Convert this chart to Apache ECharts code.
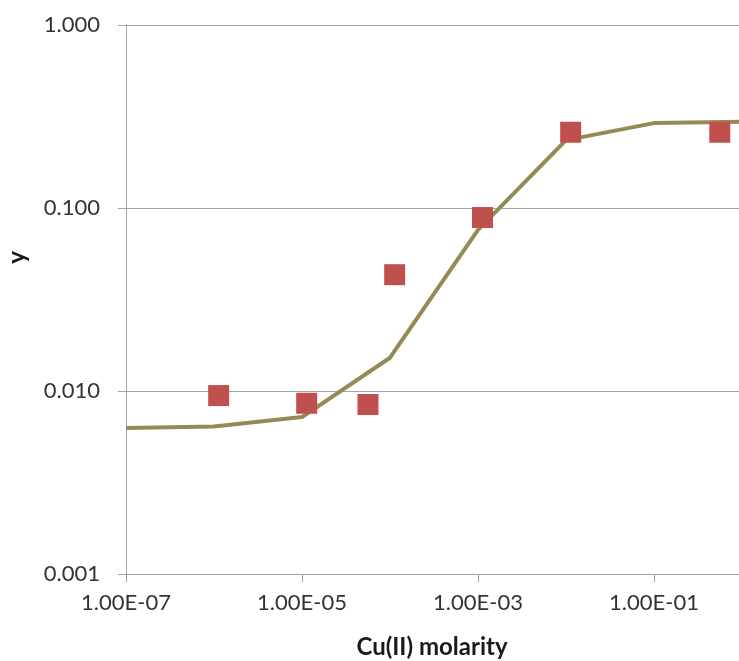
<!DOCTYPE html>
<html>
<head>
<meta charset="utf-8">
<script src="https://cdn.jsdelivr.net/npm/echarts@6/dist/echarts.min.js"></script>
<style>
html,body{margin:0;padding:0;background:#fff;overflow:hidden;}
#chart{width:745px;height:661px;}
</style>
</head>
<body>
<div id="chart"></div>
<script>
// Fitted curve (olive line)
const lineX = [1e-7, 1e-6, 1e-5, 1e-4, 1e-3, 1e-2, 1e-1, 1];
const lineY = [0.00628, 0.0064, 0.0072, 0.0152, 0.076, 0.235, 0.291, 0.296];
// Measured points (red squares)
const pointX = [1.13e-6, 1.13e-5, 5.62e-5, 1.13e-4, 1.125e-3, 1.13e-2, 0.559];
const pointY = [0.00944, 0.00857, 0.00844, 0.0432, 0.0887, 0.2594, 0.2594];
// Tick labels
const xTickValues = [1e-7, 1e-5, 1e-3, 1e-1];
const xTickLabels = ['1.00E-07', '1.00E-05', '1.00E-03', '1.00E-01'];
const yTickLabels = ['0.001', '0.010', '0.100', '1.000'];

const chart = echarts.init(document.getElementById('chart'), null, {renderer: 'canvas'});
const font = 'Lato';
const gridColor = '#a5a5a5';

function xLabel(v) {
  let best = 0, bd = Infinity;
  xTickValues.forEach((t, i) => {
    const d = Math.abs(Math.log10(v) - Math.log10(t));
    if (d < bd) { bd = d; best = i; }
  });
  return bd < 0.01 ? xTickLabels[best] : '';
}
function yLabel(v) {
  const e = Math.round(Math.log10(v)) + 3;
  return yTickLabels[e] !== undefined ? yTickLabels[e] : '';
}

chart.setOption({
  animation: false,
  backgroundColor: '#fff',
  grid: {left: 126, right: 3, top: 25, bottom: 87, containLabel: false, outerBoundsMode: 'none'},
  xAxis: {
    type: 'log',
    logBase: 10,
    min: 1e-7,
    max: 1,
    name: 'Cu(II) molarity',
    nameLocation: 'middle',
    nameGap: 61,
    nameTextStyle: {fontFamily: font, fontWeight: 'bold', fontSize: 24, color: '#1a1a1a', padding: [0, 4, 0, 0]},
    axisLine: {show: true, lineStyle: {color: gridColor, width: 1}},
    axisTick: {show: true, length: 8, lineStyle: {color: gridColor}, customValues: xTickValues},
    axisLabel: {customValues: xTickValues, formatter: xLabel, fontFamily: font, fontSize: 22, color: '#333', margin: 18},
    splitLine: {show: false},
    minorTick: {show: false},
    minorSplitLine: {show: false}
  },
  yAxis: {
    type: 'log',
    logBase: 10,
    min: 0.001,
    max: 1,
    name: 'y',
    nameLocation: 'middle',
    nameGap: 97,
    nameRotate: 90,
    nameTextStyle: {fontFamily: font, fontWeight: 'bold', fontSize: 24, color: '#1a1a1a', padding: [0, 0, 0, 84]},
    axisLine: {show: true, lineStyle: {color: gridColor, width: 1}},
    axisTick: {show: true, length: 8, lineStyle: {color: gridColor}},
    axisLabel: {formatter: yLabel, fontFamily: font, fontSize: 22, color: '#333', margin: 26},
    splitLine: {show: true, lineStyle: {color: gridColor, width: 1}}
  },
  series: [
    {
      type: 'line',
      data: lineX.map((x, i) => [x, lineY[i]]),
      showSymbol: false,
      symbol: 'none',
      lineStyle: {color: '#948A54', width: 4},
      z: 2
    },
    {
      type: 'scatter',
      data: pointX.map((x, i) => [x, pointY[i]]),
      symbol: 'rect',
      symbolSize: 21,
      itemStyle: {color: '#C0504D', opacity: 1},
      z: 3
    }
  ]
});
</script>
</body>
</html>
